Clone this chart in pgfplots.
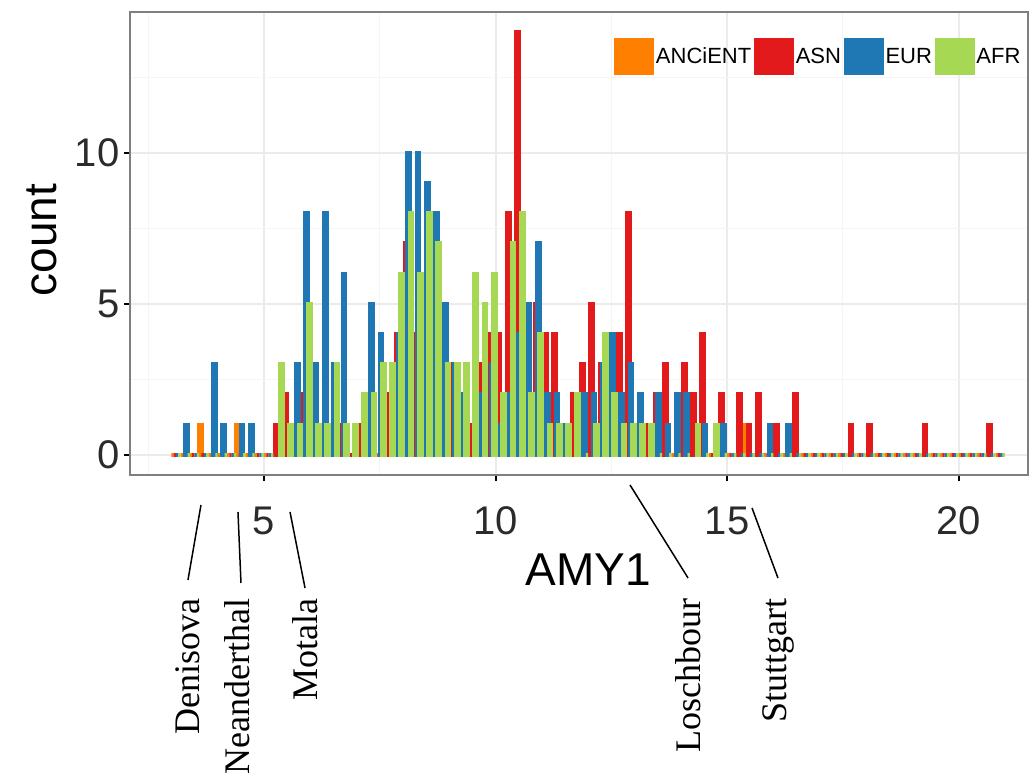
\documentclass[border=0pt]{standalone}
\usepackage{fontspec}
\setmainfont{Liberation Sans}
\newfontfamily\serifface{Liberation Serif}
\usepackage{pgfplots}
\usepackage{pgfplotstable}
\pgfplotsset{compat=1.18}
\definecolor{cANC}{HTML}{FF7F00}
\definecolor{cASN}{HTML}{E31A1C}
\definecolor{cEUR}{HTML}{1F78B4}
\definecolor{cAFR}{HTML}{A6D854}
\definecolor{gridmaj}{HTML}{EBEBEB}
\definecolor{gridmin}{HTML}{F5F5F5}
\definecolor{panelborder}{HTML}{7F7F7F}
\definecolor{ticktext}{HTML}{2B2B2B}

\pgfplotstableread{
x anc asn eur afr
3.1 0 0 0 0
3.3 0 0 1 0
3.5 0 0 0 0
3.7 1 0 0 0
3.9 0 0 3 0
4.1 0 0 1 0
4.3 0 0 0 0
4.5 1 0 1 0
4.7 0 0 1 0
4.9 0 0 0 0
5.1 0 0 0 0
5.3 0 1 0 3
5.5 1 2 0 1
5.7 0 0 3 1
5.9 0 2 8 5
6.1 0 3 3 1
6.3 0 1 8 1
6.5 0 1 3 3
6.7 0 1 6 1
6.9 0 0 0 1
7.1 0 1 0 2
7.3 0 2 5 2
7.5 0 0 4 3
7.7 0 2 0 3
7.9 0 4 4 6
8.1 0 7 10 8
8.3 0 4 10 6
8.5 0 5 9 8
8.7 0 4 8 7
8.9 0 1 5 3
9.1 0 3 3 3
9.3 0 2 2 3
9.5 0 1 0 6
9.7 0 3 2 5
9.9 0 4 3 6
10.1 0 4 1 2
10.3 0 8 2 7
10.5 0 14 4 8
10.7 0 4 5 2
10.9 0 5 7 4
11.1 0 4 2 1
11.3 0 4 2 1
11.5 0 0 1 1
11.7 0 2 0 2
11.9 0 3 2 0
12.1 0 5 2 1
12.3 0 3 3 4
12.5 0 3 4 2
12.7 0 4 2 1
12.9 0 8 3 1
13.1 1 0 2 1
13.3 0 1 0 1
13.5 0 2 2 0
13.7 0 3 1 0
13.9 0 0 2 0
14.1 0 3 2 0
14.3 0 2 0 1
14.5 0 4 1 0
14.7 0 0 0 1
14.9 0 2 1 0
15.1 0 0 0 0
15.3 0 2 0 0
15.5 1 1 0 0
15.7 0 2 0 0
15.9 0 0 1 0
16.1 0 1 0 0
16.3 0 0 1 0
16.5 0 2 0 0
16.7 0 0 0 0
16.9 0 0 0 0
17.1 0 0 0 0
17.3 0 0 0 0
17.5 0 0 0 0
17.7 0 1 0 0
17.9 0 0 0 0
18.1 0 1 0 0
18.3 0 0 0 0
18.5 0 0 0 0
18.7 0 0 0 0
18.9 0 0 0 0
19.1 0 0 0 0
19.3 0 1 0 0
19.5 0 0 0 0
19.7 0 0 0 0
19.9 0 0 0 0
20.1 0 0 0 0
20.3 0 0 0 0
20.5 0 0 0 0
20.7 0 1 0 0
20.9 0 0 0 0
}\amy

\begin{document}
\begin{tikzpicture}
\begin{axis}[
  at={(130pt,306pt)}, anchor=south west,
  scale only axis, width=898pt, height=463pt,
  xmin=2.106, xmax=21.50, ymin=-0.662, ymax=14.67,
  axis line style={draw=panelborder, line width=2.5pt},
  xtick={5,10,15,20}, ytick={0,5,10},
  minor xtick={2.5,7.5,12.5,17.5}, minor ytick={2.5,7.5,12.5},
  grid=both,
  major grid style={draw=gridmaj, line width=2pt},
  minor grid style={draw=gridmin, line width=1pt},
  tick pos=left, tick align=outside,
  major tick length=6pt, minor tick length=0pt,
  major tick style={draw=black, line width=2pt},
  ticklabel style={font=\fontsize{40}{40}\selectfont, text=ticktext},
  xticklabel style={yshift=-22pt},
  yticklabel style={xshift=-1pt},
  /pgf/number format/assume math mode=true,
  xlabel={AMY1}, ylabel={count},
  every axis x label/.style={at={(axis description cs:0.51,-0.205)}, anchor=center, font=\fontsize{46}{46}\selectfont},
  every axis y label/.style={at={(axis description cs:-0.098,0.5076)}, anchor=center, rotate=90, font=\fontsize{46}{46}\selectfont},
  legend columns=4,
  legend style={at={(axis description cs:0.9935,0.944)}, anchor=north east, draw=none, fill=none,
    font=\fontsize{22}{22}\selectfont, inner sep=0pt,
    nodes={inner xsep=1.5pt},
    /tikz/every even column/.append style={column sep=1.5pt}},
  legend image code/.code={\fill[#1,draw=none] (0pt,-18.5pt) rectangle (40pt,18.5pt);},
  clip=false,
]
\addplot[ybar, bar width=0.05, bar shift=-0.075, fill=cANC, draw=cANC, line width=4.4pt] table[x=x,y=anc]{\amy};
\addlegendentry{ANCiENT}
\addplot[ybar, bar width=0.05, bar shift=-0.025, fill=cASN, draw=cASN, line width=4.4pt] table[x=x,y=asn]{\amy};
\addlegendentry{ASN}
\addplot[ybar, bar width=0.05, bar shift=0.025, fill=cEUR, draw=cEUR, line width=4.4pt] table[x=x,y=eur]{\amy};
\addlegendentry{EUR}
\addplot[ybar, bar width=0.05, bar shift=0.075, fill=cAFR, draw=cAFR, line width=4.4pt] table[x=x,y=afr]{\amy};
\addlegendentry{AFR}

\draw[black, line width=1.5pt] (axis cs:3.639,-1.656) -- (axis cs:3.358,-4.139);
\draw[black, line width=1.5pt] (axis cs:4.438,-1.887) -- (axis cs:4.503,-4.238);
\draw[black, line width=1.5pt] (axis cs:5.562,-1.887) -- (axis cs:5.886,-4.404);
\draw[black, line width=1.5pt] (axis cs:12.905,-0.993) -- (axis cs:14.158,-4.073);
\draw[black, line width=1.5pt] (axis cs:15.540,-1.755) -- (axis cs:16.10,-4.073);
\begin{scope}[every node/.style={rotate=90, anchor=east, inner sep=0pt, font=\serifface\fontsize{36}{36}\selectfont}]
\node at (axis cs:3.358,-4.735) {Denisova};
\node at (axis cs:4.417,-4.735) {Neanderthal};
\node at (axis cs:5.886,-4.735) {Motala};
\node at (axis cs:14.158,-4.735) {Loschbour};
\node at (axis cs:16.10,-4.735) {Stuttgart};
\end{scope}
\end{axis}
\pgfresetboundingbox
\path[use as bounding box] (0pt,0pt) rectangle (1036pt,781pt);
\end{tikzpicture}
\end{document}
